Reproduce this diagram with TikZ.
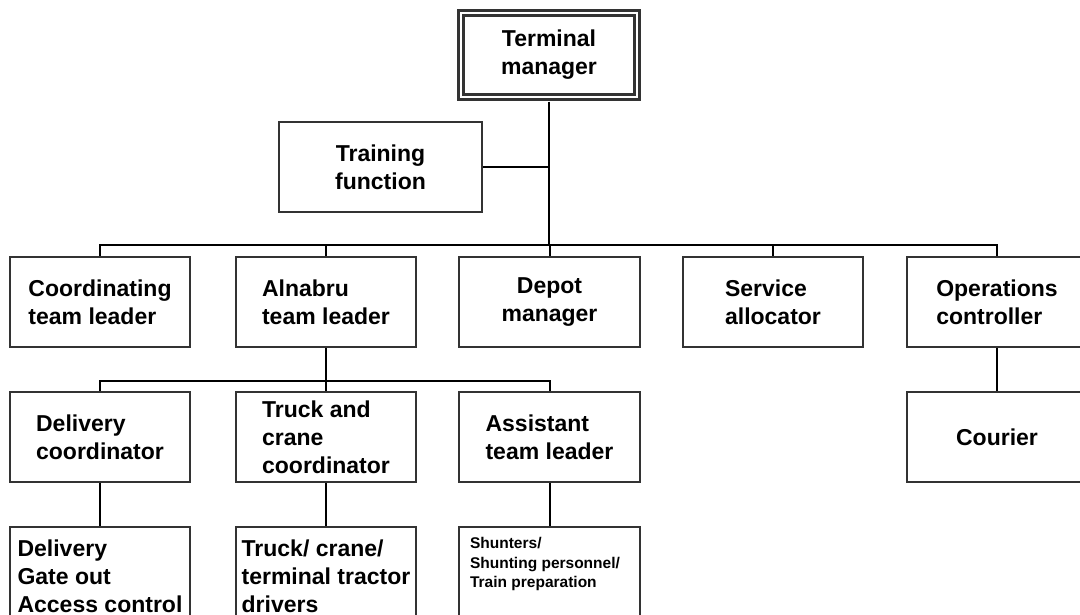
\documentclass[tikz,border=0pt]{standalone}
\usepackage{fontspec}
\setmainfont{Liberation Sans}
\definecolor{boxgray}{HTML}{333333}
\begin{document}
\begin{tikzpicture}[x=1pt,y=-1pt,
  box/.style={draw=boxgray, line width=2.2pt, fill=white, minimum width=180pt,
    minimum height=90pt, inner sep=0pt, align=left,
    font=\bfseries\fontsize{23}{28}\selectfont},
  conn/.style={line width=2pt, draw=black},
  smalltext/.style={align=left, inner sep=0pt, font=\bfseries\fontsize{15.5}{19.5}\selectfont}]
\useasboundingbox (0,0) rectangle (1080,615);
\clip (0,0) rectangle (1080,615);
% top
\node[box, align=center, line width=2.3pt, double=white, double distance=2.6pt,
      minimum width=176pt, minimum height=84pt] (tm) at (549,55) {Terminal\\manager};
\node[box, align=center, minimum width=203pt] (tf) at (380.5,167) {Training\\function};
% row 2
\node[box] (co) at (100,302) {Coordinating\\team leader};
\node[box] (al) at (326,302) {Alnabru\\team leader};
\node[box, align=center, minimum width=181pt] (dp) at (549.5,302) {Depot\\manager};
\node[box] (sa) at (773,302) {Service\\allocator};
\node[box] (op) at (997,302) {Operations\\controller};
% row 3
\node[box] (dc) at (100,437) {Delivery\\coordinator};
\node[box] (tc) at (326,437) {Truck and\\crane\\coordinator};
\node[box, minimum width=181pt] (at) at (549.5,437) {Assistant\\team leader};
\node[box] (cu) at (997,437) {Courier};
% row 4
\node[box, minimum height=98pt] (dg) at (100,576) {Delivery\\Gate out\\Access control};
\node[box, minimum height=98pt] (tt) at (326,576) {Truck/ crane/\\terminal tractor\\drivers};
\node[box, minimum height=98pt, minimum width=181pt] (sh) at (549.5,576) {};
\node[smalltext] (sht) at (545,564) {Shunters/\\Shunting personnel/\\Train preparation};
% connectors
\coordinate (b1) at (549,245);
\draw[conn] ([yshift=-3.5pt]tm.south) -- (b1);
\draw[conn] (tf.east) -- (tf.east -| tm.south);
\foreach \n in {co,al,dp,sa,op} \draw[conn] (b1) -| (\n.north);
\coordinate (b2) at (326,381);
\draw[conn] (al.south) -- (b2);
\foreach \n in {dc,tc,at} \draw[conn] (b2) -| (\n.north);
\draw[conn] (dc) -- (dg);
\draw[conn] (tc) -- (tt);
\draw[conn] (at) -- (sh);
\draw[conn] (op) -- (cu);
\end{tikzpicture}
\end{document}
